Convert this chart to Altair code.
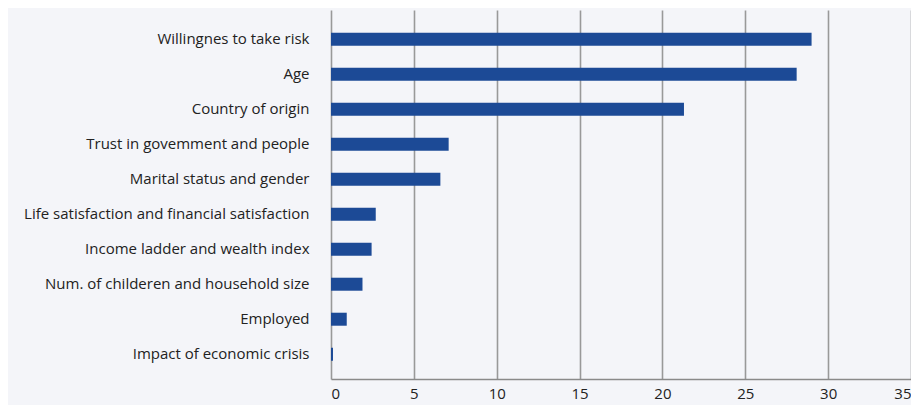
import altair as alt
import pandas as pd

factors = [
    "Willingnes to take risk",
    "Age",
    "Country of origin",
    "Trust in govemment and people",
    "Marital status and gender",
    "Life satisfaction and financial satisfaction",
    "Income ladder and wealth index",
    "Num. of childeren and household size",
    "Employed",
    "Impact of economic crisis",
]
values = [29.0, 28.1, 21.3, 7.1, 6.6, 2.7, 2.45, 1.9, 0.95, 0.12]
x_ticks = [0, 5, 10, 15, 20, 25, 30, 35]

df = pd.DataFrame({"factor": factors, "value": values})

bg = "#f4f5f9"

chart = (
    alt.Chart(df)
    .mark_bar(color="#1c4a96")
    .encode(
        x=alt.X(
            "value:Q",
            scale=alt.Scale(domain=[0, 35], nice=False),
            axis=alt.Axis(
                values=x_ticks,
                title=None,
                grid=True,
                gridColor="#999999",
                gridWidth=1.6,
                domainColor="#8a8a8a",
                domainWidth=1.6,
                ticks=False,
                labelPadding=7,
                labelFlush=True,
                labelFont="Open Sans",
                labelFontSize=15,
                labelColor="#222222",
            ),
        ),
        y=alt.Y(
            "factor:N",
            sort=factors,
            scale=alt.Scale(paddingInner=0.6286, paddingOuter=0.5857, align=0.554),
            axis=alt.Axis(
                title=None,
                ticks=False,
                domain=False,
                labelPadding=22,
                labelFont="Open Sans",
                labelFontSize=15,
                labelColor="#222222",
                labelLimit=400,
            ),
        ),
    )
    .properties(
        width=580,
        height=369,
        background=bg,
        padding={"left": 323, "top": 2, "right": 0, "bottom": 26},
        autosize=alt.AutoSizeParams(type="none"),
    )
    .configure_view(stroke=None, fill=bg)
)

chart.save("out.html", embed_options={"renderer": "svg", "actions": False})
